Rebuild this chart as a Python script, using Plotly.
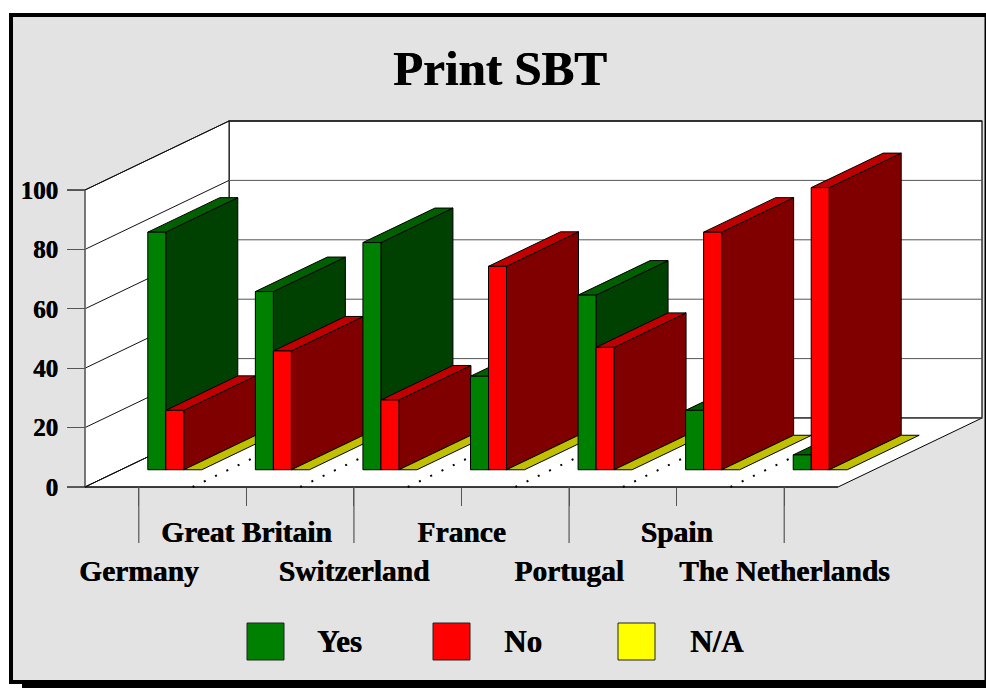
import plotly.graph_objects as go

# ---- data ----
categories = ["Germany", "Great Britain", "Switzerland", "France", "Portugal", "Spain", "The Netherlands"]
yes_values = [80, 60, 76.5, 31.5, 58.8, 20, 5]
no_values = [20, 40, 23.5, 68.5, 41.2, 80, 95]
na_values = [0, 0, 0, 0, 0, 0, 0]
y_ticks = [0, 20, 40, 60, 80, 100]
series_names = ["Yes", "No", "N/A"]

# ---- styling / geometry ----
W, H = 986, 688
PX_X0, PX_X7 = 85, 838      # front plane, category axis
PX_Y0, PX_Y100 = 487, 190   # front plane, value axis
UX = (PX_X7 - PX_X0) / 7
UY = (PX_Y0 - PX_Y100) / 100
DEPTH_X = 144 / UX          # oblique shift of the full depth, in axis units
DEPTH_Y = 69 / UY
BAR_W = 18 / UX
DEPTH_NEAR, DEPTH_FAR = 0.25, 0.75
FONT = "Liberation Serif"
BG = "#e3e3e3"
COLORS = {
    "Yes": ("#008000", "#006000", "#004000"),
    "No": ("#ff0000", "#c00000", "#800000"),
    "N/A": ("#ffff00", "#c0c000", "#808000"),
}
LEGEND_COL = {"Yes": "#008000", "No": "#ff0000", "N/A": "#ffff00"}
SHADOW = "0.6px 0 0 #000"


def proj(x, y, d):
    """Oblique projection of (category position, value, depth)."""
    return x + d * DEPTH_X, y + d * DEPTH_Y


def poly(points, fill, line="#000000", width=1, name=""):
    xs, ys = zip(*[proj(*p) for p in points])
    return go.Scatter(x=list(xs) + [xs[0]], y=list(ys) + [ys[0]], mode="lines", fill="toself",
                      fillcolor=fill, line=dict(color=line, width=width), hoverinfo="skip",
                      showlegend=False, name=name)


def seg(points, color, width=1, dash="solid"):
    xs, ys = [], []
    for a, b in points:
        pa, pb = proj(*a), proj(*b)
        xs += [pa[0], pb[0], None]
        ys += [pa[1], pb[1], None]
    return go.Scatter(x=xs, y=ys, mode="lines", line=dict(color=color, width=width, dash=dash),
                      hoverinfo="skip", showlegend=False)


n = len(categories)
top = max(y_ticks)
fig = go.Figure()

# walls and floor
fig.add_trace(poly([(0, 0, 1), (n, 0, 1), (n, top, 1), (0, top, 1)], "#ffffff", width=1.2, name="back wall"))
fig.add_trace(poly([(0, 0, 0), (0, 0, 1), (0, top, 1), (0, top, 0)], "#ffffff", width=1, name="side wall"))
fig.add_trace(poly([(0, 0, 0), (n, 0, 0), (n, 0, 1), (0, 0, 1)], "#ffffff", width=1, name="floor"))
fig.add_trace(seg([((0, v, 0), (0, v, 1)) for v in y_ticks], "#111111", 1))
fig.add_trace(seg([((0, v, 1), (n, v, 1)) for v in y_ticks], "#555555", 1))
fig.add_trace(seg([((0, top, 1), (n, top, 1))], "#000000", 1.2))
# dotted floor lines at category boundaries
fig.add_trace(seg([((i, 0, 0), (i, 0, 1)) for i in range(1, n)], "#000000", 2, "2px,10.5px"))
# axis lines on the front plane
fig.add_trace(seg([((0, 0, 0), (0, top, 0))], "#777777", 1.5))
fig.add_trace(seg([((0, 0, 0), (n, 0, 0))], "#000000", 1.2))

# bars, painted left to right
for i in range(n):
    for j, (name, vals) in enumerate(zip(series_names, [yes_values, no_values, na_values])):
        v = vals[i]
        x0 = i + 0.5 - 1.5 * BAR_W + j * BAR_W
        x1 = x0 + BAR_W
        front, topc, side = COLORS[name]
        dn, df = DEPTH_NEAR, DEPTH_FAR
        if v > 0:
            fig.add_trace(poly([(x1, 0, dn), (x1, 0, df), (x1, v, df), (x1, v, dn)], side, name=name))
        fig.add_trace(poly([(x0, v, dn), (x1, v, dn), (x1, v, df), (x0, v, df)], topc, name=name))
        if v > 0:
            fig.add_trace(poly([(x0, 0, dn), (x1, 0, dn), (x1, v, dn), (x0, v, dn)], front, name=name))

# long ticks below the staggered lower row, darker end ticks of the value axis
fig.add_trace(seg([((i + 0.5, 0, 0), (i + 0.5, -56 / UY, 0)) for i in range(0, n, 2)], "#555555", 1.2))
fig.add_trace(seg([((-18 / UX, v, 0), (0, v, 0)) for v in (min(y_ticks), top)], "#000000", 1.2))

ticktext = [(" <br>" + c) if i % 2 == 0 else c for i, c in enumerate(categories)]

fig.update_layout(
    width=W, height=H, margin=dict(l=0, r=0, t=0, b=0),
    paper_bgcolor="#ffffff", plot_bgcolor="rgba(0,0,0,0)", showlegend=False,
    xaxis=dict(range=[-PX_X0 / UX, (W - PX_X0) / UX], showgrid=False, zeroline=False, showline=False,
               tickmode="array", tickvals=[i + 0.5 for i in range(n)], ticktext=ticktext, tickangle=0,
               ticks="outside", ticklen=18, tickcolor="#555555", tickwidth=1.2,
               anchor="free", position=(H - PX_Y0) / H, ticklabelstandoff=1,
               tickfont=dict(family=FONT, size=29.5, color="#000", weight="bold", shadow=SHADOW)),
    yaxis=dict(range=[(PX_Y0 - H) / UY, PX_Y0 / UY], showgrid=False, zeroline=False, showline=False,
               tickmode="array", tickvals=y_ticks, ticktext=[str(v) for v in y_ticks],
               ticks="outside", ticklen=18, tickcolor="#555555", tickwidth=1.2,
               anchor="free", position=PX_X0 / W, ticklabelstandoff=4,
               tickfont=dict(family=FONT, size=25, color="#000", weight="bold", shadow=SHADOW)),
)


def px(x):
    return x / W


def py(y):
    return 1 - y / H


shapes = [
    dict(type="rect", xref="paper", yref="paper", x0=px(22), x1=px(986), y0=py(688), y1=py(30),
         fillcolor="#000", line_width=0, layer="below"),
    dict(type="rect", xref="paper", yref="paper", x0=px(9), x1=px(986), y0=py(684), y1=py(13),
         fillcolor="#000", line_width=0, layer="below"),
    dict(type="rect", xref="paper", yref="paper", x0=px(13), x1=px(984.5), y0=py(680), y1=py(17),
         fillcolor=BG, line_width=0, layer="below"),
]
annotations = [
    dict(text="Print SBT", x=px(500), y=py(69), xref="paper", yref="paper", showarrow=False,
         xanchor="center", yanchor="middle",
         font=dict(family=FONT, size=49, color="#000", weight="bold", shadow=SHADOW)),
]
swatch_x = [247, 433, 618]
label_x = [339, 523, 717]
for name, sx, lx in zip(series_names, swatch_x, label_x):
    shapes.append(dict(type="rect", xref="paper", yref="paper", x0=px(sx), x1=px(sx + 37), y0=py(660), y1=py(623),
                       fillcolor=LEGEND_COL[name], line=dict(color="#222", width=1), layer="below"))
    annotations.append(dict(text=name, x=px(lx), y=py(641), xref="paper", yref="paper", showarrow=False,
                            xanchor="center", yanchor="middle",
                            font=dict(family=FONT, size=31, color="#000", weight="bold", shadow=SHADOW)))
fig.update_layout(shapes=shapes, annotations=annotations)

fig.write_html("out.html", config=dict(displayModeBar=False),
               post_script="document.body.style.margin='0';document.body.style.overflow='hidden';")
